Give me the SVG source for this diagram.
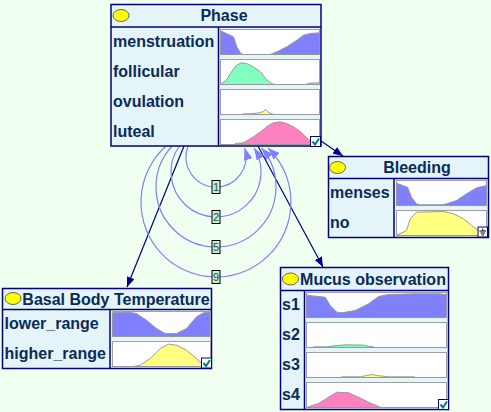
<svg xmlns="http://www.w3.org/2000/svg" width="491" height="412" viewBox="0 0 491 412">
<style>
.box{fill:#e4f4f8;stroke:#000080;stroke-width:1.5}
.ln{stroke:#000080;stroke-width:1.5;fill:none}
.dot{fill:#ffff00;stroke:#404040;stroke-width:0.8}
.title{font-family:"Liberation Sans",Arial,sans-serif;font-weight:bold;font-size:16px;fill:#0a2a5a;text-anchor:middle}
.lab{font-family:"Liberation Sans",Arial,sans-serif;font-weight:bold;font-size:16px;fill:#0a2a5a}
.chart{fill:#ffffff;stroke:#a0a0a0;stroke-width:1}
.crv{stroke:#999999;stroke-width:1}
.c1{fill:#8080ff}.c2{fill:#80ffc0}.c3{fill:#ffff80}.c4{fill:#ff80c0}
.chk{fill:#ffffff;stroke:#000080;stroke-width:1}
.tick{fill:none;stroke:#008080;stroke-width:2}
.edge{stroke:#000080;stroke-width:1.2;fill:none;marker-end:url(#ah)}
.loop{stroke:#8080ff;stroke-width:1.2;fill:none;marker-end:url(#lh)}
.lbox{fill:#c8f0c8;stroke:#000000;stroke-width:1}
.ltxt{font-family:"Liberation Sans",Arial,sans-serif;font-size:11px;fill:#1a4a6a;text-anchor:middle}
</style>
<defs>
<marker id="ah" viewBox="0 0 10 8" refX="10" refY="4" markerWidth="10" markerHeight="8" markerUnits="userSpaceOnUse" orient="auto"><path d="M0,0 L10,4 L0,8 Z" fill="#000080"/></marker>
<marker id="lh" viewBox="0 0 12 9" refX="12" refY="4.5" markerWidth="12" markerHeight="9" markerUnits="userSpaceOnUse" orient="auto"><path d="M0,0 L12,4.5 L0,9 Z" fill="#8080ff"/></marker>
</defs>
<rect width="491" height="412" fill="#f0fff0"/>

<g id="connectors">
<path class="edge" d="M184,146 L127,287"/>
<path class="edge" d="M258,146 L323,267"/>
<path class="edge" d="M321,141 L343,156"/>
<path class="loop" d="M188.1,146 A30,30 0 1 0 244.6,148"/>
<path class="loop" d="M179.3,146 A45,45 0 1 0 254.1,148"/>
<path class="loop" d="M172.2,146 A60,60 0 1 0 261.6,148"/>
<path class="loop" d="M166.1,146 A75,75 0 1 0 268,148"/>
<rect class="lbox" x="212" y="180.5" width="8" height="13"/><text class="ltxt" x="216" y="191">1</text>
<rect class="lbox" x="212" y="210.5" width="8" height="13"/><text class="ltxt" x="216" y="221">2</text>
<rect class="lbox" x="212" y="240.5" width="8" height="13"/><text class="ltxt" x="216" y="251">5</text>
<rect class="lbox" x="212" y="270.5" width="8" height="13"/><text class="ltxt" x="216" y="281">9</text>
</g>

<g id="phase">
<rect class="box" x="111" y="4.5" width="210" height="141.5"/>
<line class="ln" x1="111" y1="27" x2="321" y2="27"/>
<line class="ln" x1="218.5" y1="27" x2="218.5" y2="146"/>
<ellipse class="dot" cx="121" cy="15.5" rx="8" ry="6"/>
<text class="title" x="224" y="21">Phase</text>
<text class="lab" x="113" y="47">menstruation</text>
<text class="lab" x="113" y="77">follicular</text>
<text class="lab" x="113" y="107">ovulation</text>
<text class="lab" x="113" y="137">luteal</text>
<g transform="translate(220.5,29.5)"><rect class="chart" width="99" height="25"/><polygon class="crv c1" points="0,25 0,1.3 13,7.3 16.3,17.3 20.3,24 23,25 49.7,25 56.3,22.3 66.3,17.3 76.3,10.7 83,5.7 89.7,4 99,3.3 99,25"/></g>
<g transform="translate(220.5,59.5)"><rect class="chart" width="99" height="25"/><polygon class="crv c2" points="0,25 1,24 6,20.7 11,12.3 16,5.7 21,3.3 26,4 33,7.3 40,12.3 45,19 50,23.3 53,24.7 55,25 86,25 87,23.8 99,23.3 99,25"/></g>
<g transform="translate(220.5,89.5)"><rect class="chart" width="99" height="25"/><polygon class="crv c3" points="0,25 23,25 23,24.3 30,24.3 38,23.5 43,22 45,20 47,22 50,23.8 52,24.3 53,25 99,25"/></g>
<g transform="translate(220.5,119.5)"><rect class="chart" width="99" height="25"/><polygon class="crv c4" points="0,25 15,25 15,24 23,23.3 33,17.3 40,12.3 46,7.3 53,3.3 60,2.3 66,4 73,7.3 80,12.3 86,18 91,22.3 96,25 99,25"/></g>
<g transform="translate(310.5,136.5)"><rect class="chk" width="10" height="10"/><path class="tick" d="M2,5 L4.5,8 L8.5,2"/></g>
</g>

<g id="bleeding">
<rect class="box" x="328.5" y="156.5" width="160" height="81"/>
<line class="ln" x1="328.5" y1="178.5" x2="488.5" y2="178.5"/>
<line class="ln" x1="394" y1="178.5" x2="394" y2="237.5"/>
<ellipse class="dot" cx="337.5" cy="167.5" rx="8" ry="6"/>
<text class="title" x="417" y="173">Bleeding</text>
<text class="lab" x="330" y="198">menses</text>
<text class="lab" x="330" y="228">no</text>
<g transform="translate(396.5,180.5)"><rect class="chart" width="90" height="25"/><polygon class="crv c1" points="0,25 0,2.7 11,6.7 15,16.7 20,23.3 23.7,24.3 45,24.3 50,23.3 60,20 70,13.3 80,7.3 90,5 90,25"/></g>
<g transform="translate(396.5,210.5)"><rect class="chart" width="90" height="25"/><polygon class="crv c3" points="0,25 10,20 13.7,8.3 20,1.7 47,1 57,3.3 67,8.3 75,15 82,20 87,23.3 90,25"/></g>
<g transform="translate(478,227)"><rect class="chk" width="9.5" height="10"/><path d="M4.75,1.5 V4 M1.5,4 H8 M2.5,6 H7 M3.5,8 H6" stroke="#000000" stroke-width="1" fill="none"/></g>
</g>

<g id="bbt">
<rect class="box" x="2.5" y="288.5" width="209" height="80"/>
<line class="ln" x1="2.5" y1="309.5" x2="211.5" y2="309.5"/>
<line class="ln" x1="110" y1="309.5" x2="110" y2="368.5"/>
<ellipse class="dot" cx="13" cy="298.5" rx="8" ry="6"/>
<text class="title" x="116" y="304.5">Basal Body Temperature</text>
<text class="lab" x="4.5" y="329">lower_range</text>
<text class="lab" x="4.5" y="359">higher_range</text>
<g transform="translate(112.5,311.5)"><rect class="chart" width="98" height="25"/><polygon class="crv c1" points="0,25 0,1.3 16,0.7 24,2 34,8.7 44,17 52.7,22 64,22 74,17 84,5.3 91,1.3 98,0.7 98,25"/></g>
<g transform="translate(112.5,341.5)"><rect class="chart" width="98" height="25"/><polygon class="crv c3" points="0,25 21,25 27.7,23.7 37.7,17 47.7,7 56,2.7 64,3.7 74,8.7 84,17 91,23.7 94,25 98,25"/></g>
<g transform="translate(201.5,358)"><rect class="chk" width="10" height="10"/><path class="tick" d="M2,5 L4.5,8 L8.5,2"/></g>
</g>

<g id="mucus">
<rect class="box" x="280.5" y="267.5" width="168" height="142"/>
<line class="ln" x1="280.5" y1="290.5" x2="448.5" y2="290.5"/>
<line class="ln" x1="304.5" y1="290.5" x2="304.5" y2="409.5"/>
<ellipse class="dot" cx="290.5" cy="279" rx="8" ry="6"/>
<text class="title" x="373" y="284.5">Mucus observation</text>
<text class="lab" x="282" y="310">s1</text>
<text class="lab" x="282" y="340">s2</text>
<text class="lab" x="282" y="370">s3</text>
<text class="lab" x="282" y="400">s4</text>
<g transform="translate(306.5,292.5)"><rect class="chart" width="140" height="25"/><polygon class="crv c1" points="0,25 0,2.7 18.7,4.7 23.7,13 30.3,19.7 35.3,20.3 48.7,18 62,11.3 72,4 82,2 108.7,1.3 132,1.3 140,2 140,25"/></g>
<g transform="translate(306.5,322.5)"><rect class="chart" width="140" height="25"/><polygon class="crv c2" points="0,25 7,25 7,24.3 20,24.3 27,23.3 40,22.3 58,22.7 62,23.8 67,24.3 67,25 140,25"/></g>
<g transform="translate(306.5,352.5)"><rect class="chart" width="140" height="25"/><polygon class="crv c3" points="0,25 35,25 35,24.3 54,24.3 60,23 65.7,22 70,23 82,24.3 108,24.3 108,25 140,25"/></g>
<g transform="translate(306.5,382.5)"><rect class="chart" width="140" height="25"/><polygon class="crv c4" points="0,25 12,21 22,14.7 30.3,9.7 42,10.3 52,14.7 62,19.7 73.7,24.7 75,25 140,25"/></g>
<g transform="translate(438.5,399.5)"><rect class="chk" width="10" height="10"/><path class="tick" d="M2,5 L4.5,8 L8.5,2"/></g>
</g>
</svg>
